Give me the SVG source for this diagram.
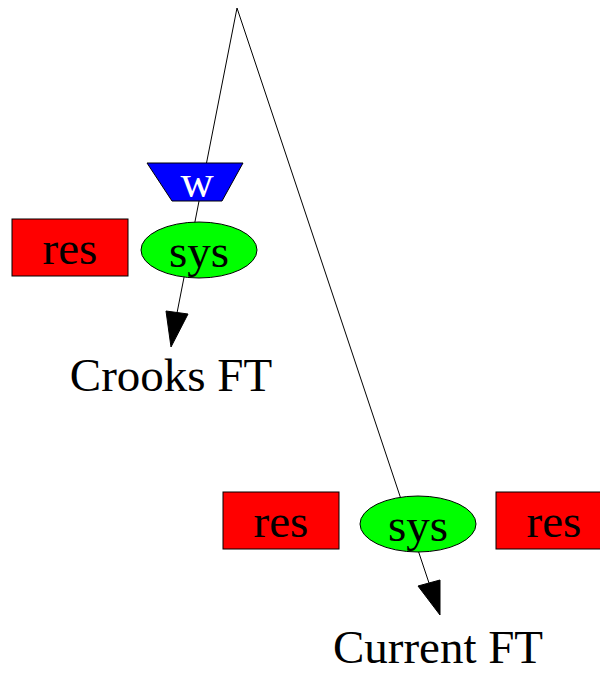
<svg xmlns="http://www.w3.org/2000/svg" width="600" height="674" viewBox="0 0 600 674">
  <style>
    .edge { stroke: #000; stroke-width: 1; fill: none; }
    .head { fill: #000; stroke: #000; stroke-width: 1; }
    .res { fill: #ff0000; stroke: #000; stroke-width: 1; }
    .sys { fill: #00ff00; stroke: #000; stroke-width: 1; }
    .work { fill: #0000ff; stroke: #000; stroke-width: 1; }
    text { font-family: "Liberation Serif", "Times New Roman", serif; text-anchor: middle; }
    .lbl { font-size: 47px; fill: #000; }
    .big { font-size: 47px; fill: #000; }
    .w { font-size: 46px; fill: #fff; }
  </style>
  <rect width="600" height="674" fill="#fff"/>

  <!-- connectors from the common apex -->
  <g id="connectors">
    <line class="edge" x1="237" y1="8" x2="177" y2="313"/>
    <polygon class="head" points="166,311 188,314 171,347"/>
    <line class="edge" x1="237" y1="8" x2="429" y2="583"/>
    <polygon class="head" points="418,586 440,580 440,615"/>
  </g>

  <!-- Crooks FT branch -->
  <g id="work">
    <polygon class="work" points="147,163 243,163 222,201 172,201"/>
    <text class="w" x="197" y="197">w</text>
  </g>
  <g id="res1">
    <rect class="res" x="12" y="219" width="116" height="57"/>
    <text class="lbl" x="70" y="264">res</text>
  </g>
  <g id="sys1">
    <ellipse class="sys" cx="199" cy="250" rx="58" ry="28"/>
    <text class="lbl" x="199" y="267">sys</text>
  </g>
  <g id="crooks">
    <text class="big" x="171" y="391">Crooks FT</text>
  </g>

  <!-- Current FT branch -->
  <g id="res2">
    <rect class="res" x="223" y="492" width="116" height="57"/>
    <text class="lbl" x="281" y="537">res</text>
  </g>
  <g id="sys2">
    <ellipse class="sys" cx="418" cy="524" rx="58" ry="28"/>
    <text class="lbl" x="418" y="541">sys</text>
  </g>
  <g id="res3">
    <rect class="res" x="496" y="492" width="116" height="57"/>
    <text class="lbl" x="554" y="537">res</text>
  </g>
  <g id="current">
    <text class="big" x="438" y="663">Current FT</text>
  </g>
</svg>
